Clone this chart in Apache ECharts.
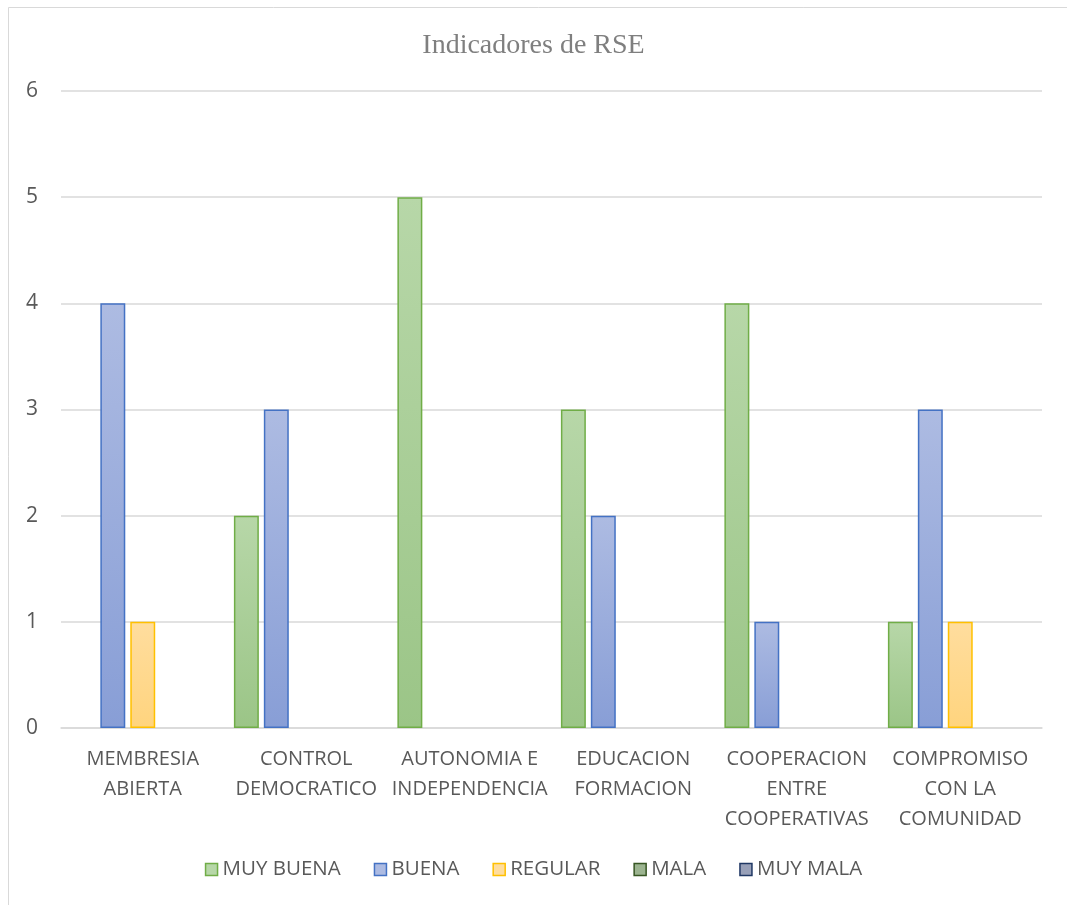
<!DOCTYPE html>
<html>
<head>
<meta charset="utf-8">
<script src="https://cdn.jsdelivr.net/npm/echarts@6/dist/echarts.min.js"></script>
<style>html,body{margin:0;padding:0;background:#fff;}#c{width:1067px;height:905px;}</style>
</head>
<body>
<div id="c"></div>
<script>
const categories = ["MEMBRESIA\nABIERTA", "CONTROL\nDEMOCRATICO", "AUTONOMIA E\nINDEPENDENCIA", "EDUCACION\nFORMACION", "COOPERACION\nENTRE\nCOOPERATIVAS", "COMPROMISO\nCON LA\nCOMUNIDAD"];
const seriesNames = ["MUY BUENA", "BUENA", "REGULAR", "MALA", "MUY MALA"];
const muyBuena = [0, 2, 5, 3, 4, 1];
const buena = [4, 3, 0, 2, 1, 3];
const regular = [1, 0, 0, 0, 0, 1];
const mala = [0, 0, 0, 0, 0, 0];
const muyMala = [0, 0, 0, 0, 0, 0];
const yTicks = [0, 1, 2, 3, 4, 5, 6];

const styles = [
  {top: '#b7d7a8', bottom: '#9bc587', border: '#70ad47'},
  {top: '#adbbe2', bottom: '#889ed6', border: '#4472c4'},
  {top: '#ffdd9e', bottom: '#ffd47e', border: '#ffc000'},
  {top: '#9cb490', bottom: '#839f76', border: '#375623'},
  {top: '#98a0b8', bottom: '#7f89a5', border: '#203864'}
];
const dataSets = [muyBuena, buena, regular, mala, muyMala];

const chart = echarts.init(document.getElementById('c'), null, {renderer: 'canvas'});
const font = '"Open Sans", Lato, sans-serif';
chart.setOption({
  animation: false,
  backgroundColor: '#fff',
  graphic: [{
    type: 'rect', shape: {x: 8.5, y: 7.5, width: 1080, height: 920},
    style: {fill: 'none', stroke: '#d9d9d9', lineWidth: 1}, z: -1
  }],
  title: {
    text: 'Indicadores de RSE', left: 'center', top: 27,
    textStyle: {fontFamily: '"Liberation Serif", "DejaVu Serif", serif', fontWeight: 'normal', fontSize: 28, color: '#7f7f7f'}
  },
  legend: {
    bottom: 20, left: 'center', itemWidth: 12, itemHeight: 12, itemGap: 33,
    textStyle: {fontFamily: font, fontSize: 20.5, color: '#595959'},
    data: seriesNames.map((n, i) => ({name: n, icon: 'rect', itemStyle: {color: styles[i].top, borderColor: styles[i].border, borderWidth: 1.5}}))
  },
  grid: {left: 61, right: 25, top: 91, bottom: 177, containLabel: false},
  xAxis: {
    type: 'category', data: categories,
    axisLine: {lineStyle: {color: '#d9d9d9', width: 1.5}},
    axisTick: {show: false},
    axisLabel: {interval: 0, fontFamily: font, fontSize: 20, color: '#595959', lineHeight: 30, margin: 16}
  },
  yAxis: {
    type: 'value', min: yTicks[0], max: yTicks[yTicks.length - 1], interval: 1,
    axisLine: {show: false}, axisTick: {show: false},
    splitLine: {lineStyle: {color: '#d9d9d9', width: 1.5}},
    axisLabel: {fontFamily: font, fontSize: 21, color: '#595959', margin: 23}
  },
  series: seriesNames.map((n, i) => ({
    name: n, type: 'bar', data: dataSets[i].map(v => v === 0 ? null : v),
    barGap: '20%', barCategoryGap: '11.5%',
    itemStyle: {
      color: {type: 'linear', x: 0, y: 0, x2: 0, y2: 1, colorStops: [{offset: 0, color: styles[i].top}, {offset: 1, color: styles[i].bottom}]},
      borderColor: styles[i].border, borderWidth: 1.5
    }
  }))
});
</script>
</body>
</html>
